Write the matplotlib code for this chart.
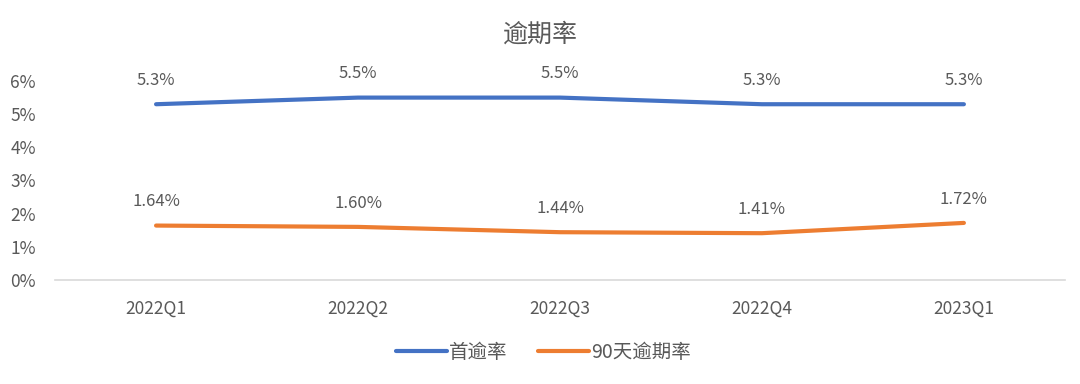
import matplotlib
matplotlib.use("Agg")
import matplotlib.pyplot as plt

plt.rcParams['font.family'] = ['Noto Sans CJK SC', 'DejaVu Sans']

# data
quarters = ["2022Q1", "2022Q2", "2022Q3", "2022Q4", "2023Q1"]
first_overdue = [5.3, 5.5, 5.5, 5.3, 5.3]
overdue_90 = [1.64, 1.60, 1.44, 1.41, 1.72]
yticks = [0, 1, 2, 3, 4, 5, 6]

text_color = '#595959'
blue = '#4472C4'
orange = '#ED7D31'

fig = plt.figure(figsize=(10.8, 3.84), dpi=100)
ax = fig.add_axes([0.051, 0.271, 0.935, 0.518])

x = list(range(len(quarters)))
ax.plot(x, first_overdue, color=blue, lw=3, solid_capstyle='round', label='首逾率')
ax.plot(x, overdue_90, color=orange, lw=3, solid_capstyle='round', label='90天逾期率')

for i, v in enumerate(first_overdue):
    ax.annotate("{0:.1f}%".format(v), (i, v), xytext=(0, 11), textcoords='offset points',
                ha='center', va='bottom', fontsize=12, color=text_color, annotation_clip=False)
for i, v in enumerate(overdue_90):
    ax.annotate("{0:.2f}%".format(v), (i, v), xytext=(0, 11), textcoords='offset points',
                ha='center', va='bottom', fontsize=12, color=text_color, annotation_clip=False)

ax.set_xlim(-0.5, len(quarters) - 0.5)
ax.set_ylim(0, 6)
ax.set_xticks(x)
ax.set_xticklabels(quarters)
ax.set_yticks(yticks)
ax.set_yticklabels(["{0}%".format(t) for t in yticks])
ax.tick_params(axis='both', length=0, labelsize=12.5, labelcolor=text_color)
ax.tick_params(axis='x', pad=14)
ax.tick_params(axis='y', pad=14)

for side in ['top', 'right', 'left']:
    ax.spines[side].set_visible(False)
ax.spines['bottom'].set_color('#D9D9D9')
ax.spines['bottom'].set_linewidth(1.2)

fig.suptitle('逾期率', x=0.5, y=0.91, va='center', fontsize=18, color=text_color)

fig.legend(loc='center', bbox_to_anchor=(0.503, 0.083), ncol=2, frameon=False,
           fontsize=14, labelcolor=text_color, handlelength=2.6, handletextpad=0.1,
           columnspacing=1.6)

fig.savefig('out.png', dpi=100)
